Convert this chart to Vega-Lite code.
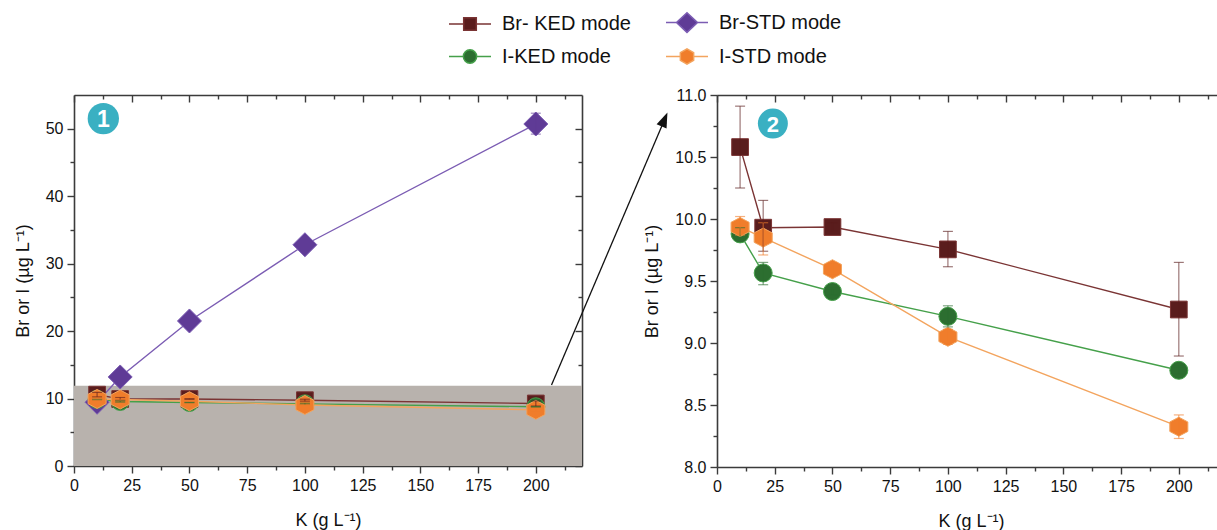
{
  "$schema": "https://vega.github.io/schema/vega-lite/v6.json",
  "background": "white",
  "padding": {"left": 14, "top": 12, "right": 0, "bottom": 4},
  "bounds": "flush",
  "spacing": 135,
  "config": {
    "font": "Liberation Sans",
    "view": {"stroke": null},
    "axis": {"grid": false, "domainColor": "#3b3b3b", "domainWidth": 1.6, "tickColor": "#3b3b3b", "tickWidth": 1.4, "labelFontSize": 16, "labelColor": "#111", "titleFontSize": 18, "titleFontWeight": "normal", "titleColor": "#111", "labelFlush": false, "labelOverlap": false, "labelFont": "Liberation Sans", "titleFont": "Liberation Sans"},
    "legend": {"labelFont": "Liberation Sans", "labelFontSize": 20, "labelColor": "#111"}
  },
  "datasets": {
    "pts": [
      {"series": "Br-STD mode", "K": 10, "v": 9.45},
      {"series": "Br-STD mode", "K": 20, "v": 13.2},
      {"series": "Br-STD mode", "K": 50, "v": 21.5},
      {"series": "Br-STD mode", "K": 100, "v": 32.8},
      {"series": "Br-STD mode", "K": 200, "v": 50.7},
      {"series": "Br- KED mode", "K": 10, "v": 10.58},
      {"series": "Br- KED mode", "K": 20, "v": 9.93},
      {"series": "Br- KED mode", "K": 50, "v": 9.935},
      {"series": "Br- KED mode", "K": 100, "v": 9.755},
      {"series": "Br- KED mode", "K": 200, "v": 9.27},
      {"series": "I-KED mode", "K": 10, "v": 9.88},
      {"series": "I-KED mode", "K": 20, "v": 9.565},
      {"series": "I-KED mode", "K": 50, "v": 9.415},
      {"series": "I-KED mode", "K": 100, "v": 9.215},
      {"series": "I-KED mode", "K": 200, "v": 8.78},
      {"series": "I-STD mode", "K": 10, "v": 9.935},
      {"series": "I-STD mode", "K": 20, "v": 9.85},
      {"series": "I-STD mode", "K": 50, "v": 9.595},
      {"series": "I-STD mode", "K": 100, "v": 9.05},
      {"series": "I-STD mode", "K": 200, "v": 8.325}
    ],
    "err": [
      {"series": "Br-STD mode", "K": 200, "lo": 49.2, "hi": 52.3},
      {"series": "Br- KED mode", "K": 10, "lo": 10.25, "hi": 10.91},
      {"series": "Br- KED mode", "K": 20, "lo": 9.74, "hi": 10.15},
      {"series": "Br- KED mode", "K": 50, "lo": 9.9, "hi": 9.97},
      {"series": "Br- KED mode", "K": 100, "lo": 9.615, "hi": 9.9},
      {"series": "Br- KED mode", "K": 200, "lo": 8.895, "hi": 9.65},
      {"series": "I-KED mode", "K": 10, "lo": 9.84, "hi": 9.93},
      {"series": "I-KED mode", "K": 20, "lo": 9.47, "hi": 9.65},
      {"series": "I-KED mode", "K": 50, "lo": 9.39, "hi": 9.44},
      {"series": "I-KED mode", "K": 100, "lo": 9.13, "hi": 9.3},
      {"series": "I-KED mode", "K": 200, "lo": 8.75, "hi": 8.81},
      {"series": "I-STD mode", "K": 10, "lo": 9.87, "hi": 10.02},
      {"series": "I-STD mode", "K": 20, "lo": 9.71, "hi": 9.97},
      {"series": "I-STD mode", "K": 50, "lo": 9.545, "hi": 9.645},
      {"series": "I-STD mode", "K": 100, "lo": 8.99, "hi": 9.11},
      {"series": "I-STD mode", "K": 200, "lo": 8.23, "hi": 8.42}
    ],
    "one": [{}]
  },
  "resolve": {"scale": {"x": "independent", "y": "independent", "color": "shared", "shape": "shared", "stroke": "shared"}},
  "hconcat": [
    {
      "width": 508,
      "height": 371,
      "resolve": {"axis": {"x": "independent", "y": "independent"}},
      "layer": [
        {
          "data": {"name": "one"},
          "mark": {"type": "rect", "color": "#b8b2ad"},
          "encoding": {
            "x": {"datum": 0, "type": "quantitative", "scale": {"domain": [0, 220], "nice": false, "zero": false}, "axis": null},
            "x2": {"datum": 220},
            "y": {"datum": 0, "type": "quantitative", "scale": {"domain": [0, 55], "nice": false}, "axis": null},
            "y2": {"datum": 11.9}
          }
        },
        {
          "data": {"name": "pts"},
          "mark": {"type": "line", "strokeWidth": 1.4},
          "encoding": {
            "x": {"field": "K", "type": "quantitative", "scale": {"domain": [0, 220], "nice": false, "zero": false}, "axis": {"orient": "bottom", "values": [0, 25, 50, 75, 100, 125, 150, 175, 200], "tickSize": 7, "labelPadding": 4, "title": "K (g L⁻¹)", "titlePadding": 18}},
            "y": {"field": "v", "type": "quantitative", "scale": {"domain": [0, 55], "nice": false}, "axis": {"orient": "left", "values": [0, 10, 20, 30, 40, 50], "tickSize": 7, "labelPadding": 4, "title": "Br or I (µg L⁻¹)", "titlePadding": 13}},
            "stroke": {"field": "series", "type": "nominal", "scale": {"domain": ["Br- KED mode", "Br-STD mode", "I-KED mode", "I-STD mode"], "range": ["#7a3434", "#7b5cb3", "#45a04a", "#f3a45e"]}}
          }
        },
        {
          "data": {"name": "pts"},
          "transform": [{"filter": "false"}],
          "mark": {"type": "point", "filled": true, "opacity": 1, "size": 196, "strokeWidth": 1.5},
          "encoding": {
            "x": {"field": "K", "type": "quantitative", "scale": {"domain": [0, 220], "nice": false, "zero": false}, "axis": null},
            "y": {"field": "v", "type": "quantitative", "scale": {"domain": [0, 55], "nice": false}, "axis": null},
            "color": {"field": "series", "type": "nominal", "scale": {"domain": ["Br- KED mode", "Br-STD mode", "I-KED mode", "I-STD mode"], "range": ["#5a1d1d", "#5f3b96", "#2c6e30", "#f07d2b"]},
              "legend": {"orient": "none", "direction": "horizontal", "legendX": 386, "legendY": -82.5, "title": null, "columns": 2, "columnPadding": 32, "rowPadding": 10, "symbolSize": 196, "symbolStrokeWidth": 1.5, "labelOffset": 22, "labelFontSize": 20}},
            "shape": {"field": "series", "type": "nominal", "scale": {"domain": ["Br- KED mode", "Br-STD mode", "I-KED mode", "I-STD mode"], "range": [
              "M-3,0H-0.9M0.9,0H3M-0.9,-0.9H0.9V0.9H-0.9Z",
              "M-3,0H-1.5M1.5,0H3M0,-1.4L1.5,0L0,1.4L-1.5,0Z",
              "M-3,0H-0.95M0.95,0H3M-0.95,0A0.95,0.95,0,1,0,0.95,0A0.95,0.95,0,1,0,-0.95,0Z",
              "M-3,0H-1M1,0H3M0,-1.1L0.95,-0.55L0.95,0.55L0,1.1L-0.95,0.55L-0.95,-0.55Z"]}},
            "stroke": {"field": "series", "type": "nominal"}
          }
        },
        {
          "data": {"name": "pts"},
          "transform": [{"filter": "datum.series === 'Br-STD mode'"}],
          "mark": {"type": "point", "shape": "diamond", "size": 576, "filled": true, "opacity": 1, "color": "#5f3b96", "stroke": "#7b5cb3", "strokeWidth": 1},
          "encoding": {
            "x": {"field": "K", "type": "quantitative", "scale": {"domain": [0, 220], "nice": false, "zero": false}, "axis": {"orient": "bottom", "values": [12.5, 37.5, 62.5, 87.5, 112.5, 137.5, 162.5, 187.5, 212.5], "tickSize": 4, "labels": false, "domain": false, "title": null}},
            "y": {"field": "v", "type": "quantitative", "scale": {"domain": [0, 55], "nice": false}, "axis": {"orient": "left", "values": [5, 15, 25, 35, 45], "tickSize": 4, "labels": false, "domain": false, "title": null}}
          }
        },
        {
          "data": {"name": "pts"},
          "transform": [{"filter": "datum.series === 'Br- KED mode'"}],
          "mark": {"type": "point", "shape": "square", "size": 280, "filled": true, "opacity": 1, "color": "#5a1d1d", "stroke": "#7a3434", "strokeWidth": 1},
          "encoding": {
            "x": {"field": "K", "type": "quantitative", "scale": {"domain": [0, 220], "nice": false, "zero": false}, "axis": null},
            "y": {"field": "v", "type": "quantitative", "scale": {"domain": [0, 55], "nice": false}, "axis": null}
          }
        },
        {
          "data": {"name": "pts"},
          "transform": [{"filter": "datum.series === 'I-KED mode'"}],
          "mark": {"type": "point", "shape": "circle", "size": 324, "filled": true, "opacity": 1, "color": "#2c6e30", "stroke": "#45a04a", "strokeWidth": 1},
          "encoding": {
            "x": {"field": "K", "type": "quantitative", "scale": {"domain": [0, 220], "nice": false, "zero": false}, "axis": null},
            "y": {"field": "v", "type": "quantitative", "scale": {"domain": [0, 55], "nice": false}, "axis": null}
          }
        },
        {
          "data": {"name": "pts"},
          "transform": [{"filter": "datum.series === 'I-STD mode'"}],
          "mark": {"type": "point", "shape": "M0,-1L0.95,-0.5L0.95,0.5L0,1L-0.95,0.5L-0.95,-0.5Z", "size": 361, "filled": true, "opacity": 1, "color": "#f07d2b", "stroke": "#f3a45e", "strokeWidth": 1},
          "encoding": {
            "x": {"field": "K", "type": "quantitative", "scale": {"domain": [0, 220], "nice": false, "zero": false}, "axis": null},
            "y": {"field": "v", "type": "quantitative", "scale": {"domain": [0, 55], "nice": false}, "axis": null}
          }
        },
        {
          "data": {"name": "err"},
          "mark": {"type": "errorbar", "ticks": true, "size": 10, "thickness": 1.2, "opacity": 0.6},
          "encoding": {
            "x": {"field": "K", "type": "quantitative", "scale": {"domain": [0, 220], "nice": false, "zero": false}, "axis": null},
            "y": {"field": "lo", "type": "quantitative", "scale": {"domain": [0, 55], "nice": false}, "axis": null},
            "y2": {"field": "hi"},
            "color": {"field": "series", "type": "nominal"}
          }
        },
        {
          "data": {"name": "one"},
          "mark": {"type": "point", "shape": "circle", "filled": true, "opacity": 1, "color": "#3ab0c2", "size": 980},
          "encoding": {
            "x": {"datum": 12.7, "type": "quantitative", "scale": {"domain": [0, 220], "nice": false, "zero": false}, "axis": {"orient": "top", "values": [0, 25, 50, 75, 100, 125, 150, 175, 200], "tickSize": -7, "labels": false, "title": null}},
            "y": {"datum": 51.5, "type": "quantitative", "scale": {"domain": [0, 55], "nice": false}, "axis": {"orient": "right", "values": [0, 10, 20, 30, 40, 50], "tickSize": -7, "labels": false, "title": null}}
          }
        },
        {
          "data": {"name": "one"},
          "mark": {"type": "text", "text": "1", "fontSize": 23, "fontWeight": "bold", "color": "white", "align": "center", "baseline": "middle", "dy": 1},
          "encoding": {
            "x": {"datum": 12.7, "type": "quantitative", "scale": {"domain": [0, 220], "nice": false, "zero": false}, "axis": {"orient": "top", "values": [12.5, 37.5, 62.5, 87.5, 112.5, 137.5, 162.5, 187.5, 212.5], "tickSize": -4, "labels": false, "domain": false, "title": null}},
            "y": {"datum": 51.5, "type": "quantitative", "scale": {"domain": [0, 55], "nice": false}, "axis": {"orient": "right", "values": [5, 15, 25, 35, 45], "tickSize": -4, "labels": false, "domain": false, "title": null}}
          }
        },
        {
          "data": {"name": "one"},
          "mark": {"type": "rule", "color": "#111", "strokeWidth": 1.3},
          "encoding": {
            "x": {"datum": 206.8, "type": "quantitative", "scale": {"domain": [0, 220], "nice": false, "zero": false}, "axis": null},
            "y": {"datum": 12.0, "type": "quantitative", "scale": {"domain": [0, 55], "nice": false}, "axis": null},
            "x2": {"datum": 254.8},
            "y2": {"datum": 50.6}
          }
        },
        {
          "data": {"name": "one"},
          "mark": {"type": "point", "shape": "M0,0L-0.36,1L0.36,1Z", "filled": true, "opacity": 1, "color": "#111", "size": 900, "angle": 23},
          "encoding": {
            "x": {"datum": 257.0, "type": "quantitative", "scale": {"domain": [0, 220], "nice": false, "zero": false}, "axis": null},
            "y": {"datum": 52.4, "type": "quantitative", "scale": {"domain": [0, 55], "nice": false}, "axis": null}
          }
        }
      ]
    },
    {
      "width": 508,
      "height": 372,
      "resolve": {"axis": {"x": "independent", "y": "independent"}},
      "layer": [
        {
          "data": {"name": "pts"},
          "transform": [{"filter": "datum.series !== 'Br-STD mode'"}],
          "mark": {"type": "line", "strokeWidth": 1.4},
          "encoding": {
            "x": {"field": "K", "type": "quantitative", "scale": {"domain": [0, 220], "nice": false, "zero": false}, "axis": {"orient": "bottom", "values": [0, 25, 50, 75, 100, 125, 150, 175, 200], "tickSize": 7, "labelPadding": 4, "title": "K (g L⁻¹)", "titlePadding": 18}},
            "y": {"field": "v", "type": "quantitative", "scale": {"domain": [8, 11], "nice": false, "zero": false}, "axis": {"orient": "left", "values": [8, 8.5, 9, 9.5, 10, 10.5, 11], "format": ".1f", "tickSize": 7, "labelPadding": 4, "title": "Br or I (µg L⁻¹)", "titlePadding": 13}},
            "stroke": {"field": "series", "type": "nominal"}
          }
        },
        {
          "data": {"name": "pts"},
          "transform": [{"filter": "datum.series === 'Br- KED mode'"}],
          "mark": {"type": "point", "shape": "square", "size": 280, "filled": true, "opacity": 1, "color": "#5a1d1d", "stroke": "#7a3434", "strokeWidth": 1},
          "encoding": {
            "x": {"field": "K", "type": "quantitative", "scale": {"domain": [0, 220], "nice": false, "zero": false}, "axis": {"orient": "bottom", "values": [12.5, 37.5, 62.5, 87.5, 112.5, 137.5, 162.5, 187.5, 212.5], "tickSize": 4, "labels": false, "domain": false, "title": null}},
            "y": {"field": "v", "type": "quantitative", "scale": {"domain": [8, 11], "nice": false, "zero": false}, "axis": {"orient": "left", "values": [8.25, 8.75, 9.25, 9.75, 10.25, 10.75], "tickSize": 4, "labels": false, "domain": false, "title": null}}
          }
        },
        {
          "data": {"name": "pts"},
          "transform": [{"filter": "datum.series === 'I-KED mode'"}],
          "mark": {"type": "point", "shape": "circle", "size": 324, "filled": true, "opacity": 1, "color": "#2c6e30", "stroke": "#45a04a", "strokeWidth": 1},
          "encoding": {
            "x": {"field": "K", "type": "quantitative", "scale": {"domain": [0, 220], "nice": false, "zero": false}, "axis": null},
            "y": {"field": "v", "type": "quantitative", "scale": {"domain": [8, 11], "nice": false, "zero": false}, "axis": null}
          }
        },
        {
          "data": {"name": "pts"},
          "transform": [{"filter": "datum.series === 'I-STD mode'"}],
          "mark": {"type": "point", "shape": "M0,-1L0.95,-0.5L0.95,0.5L0,1L-0.95,0.5L-0.95,-0.5Z", "size": 361, "filled": true, "opacity": 1, "color": "#f07d2b", "stroke": "#f3a45e", "strokeWidth": 1},
          "encoding": {
            "x": {"field": "K", "type": "quantitative", "scale": {"domain": [0, 220], "nice": false, "zero": false}, "axis": null},
            "y": {"field": "v", "type": "quantitative", "scale": {"domain": [8, 11], "nice": false, "zero": false}, "axis": null}
          }
        },
        {
          "data": {"name": "err"},
          "transform": [{"filter": "datum.series !== 'Br-STD mode'"}],
          "mark": {"type": "errorbar", "ticks": true, "size": 10, "thickness": 1.2, "opacity": 0.6},
          "encoding": {
            "x": {"field": "K", "type": "quantitative", "scale": {"domain": [0, 220], "nice": false, "zero": false}, "axis": null},
            "y": {"field": "lo", "type": "quantitative", "scale": {"domain": [8, 11], "nice": false, "zero": false}, "axis": null},
            "y2": {"field": "hi"},
            "color": {"field": "series", "type": "nominal"}
          }
        },
        {
          "data": {"name": "one"},
          "mark": {"type": "point", "shape": "circle", "filled": true, "opacity": 1, "color": "#3ab0c2", "size": 900},
          "encoding": {
            "x": {"datum": 24.2, "type": "quantitative", "scale": {"domain": [0, 220], "nice": false, "zero": false}, "axis": {"orient": "top", "values": [0, 25, 50, 75, 100, 125, 150, 175, 200], "tickSize": -7, "labels": false, "title": null}},
            "y": {"datum": 10.77, "type": "quantitative", "scale": {"domain": [8, 11], "nice": false, "zero": false}, "axis": {"orient": "right", "values": [8, 8.5, 9, 9.5, 10, 10.5, 11], "tickSize": -7, "labels": false, "title": null}}
          }
        },
        {
          "data": {"name": "one"},
          "mark": {"type": "text", "text": "2", "fontSize": 22, "fontWeight": "bold", "color": "white", "align": "center", "baseline": "middle", "dy": 1},
          "encoding": {
            "x": {"datum": 24.2, "type": "quantitative", "scale": {"domain": [0, 220], "nice": false, "zero": false}, "axis": {"orient": "top", "values": [12.5, 37.5, 62.5, 87.5, 112.5, 137.5, 162.5, 187.5, 212.5], "tickSize": -4, "labels": false, "domain": false, "title": null}},
            "y": {"datum": 10.77, "type": "quantitative", "scale": {"domain": [8, 11], "nice": false, "zero": false}, "axis": {"orient": "right", "values": [8.25, 8.75, 9.25, 9.75, 10.25, 10.75], "tickSize": -4, "labels": false, "domain": false, "title": null}}
          }
        }
      ]
    }
  ]
}
